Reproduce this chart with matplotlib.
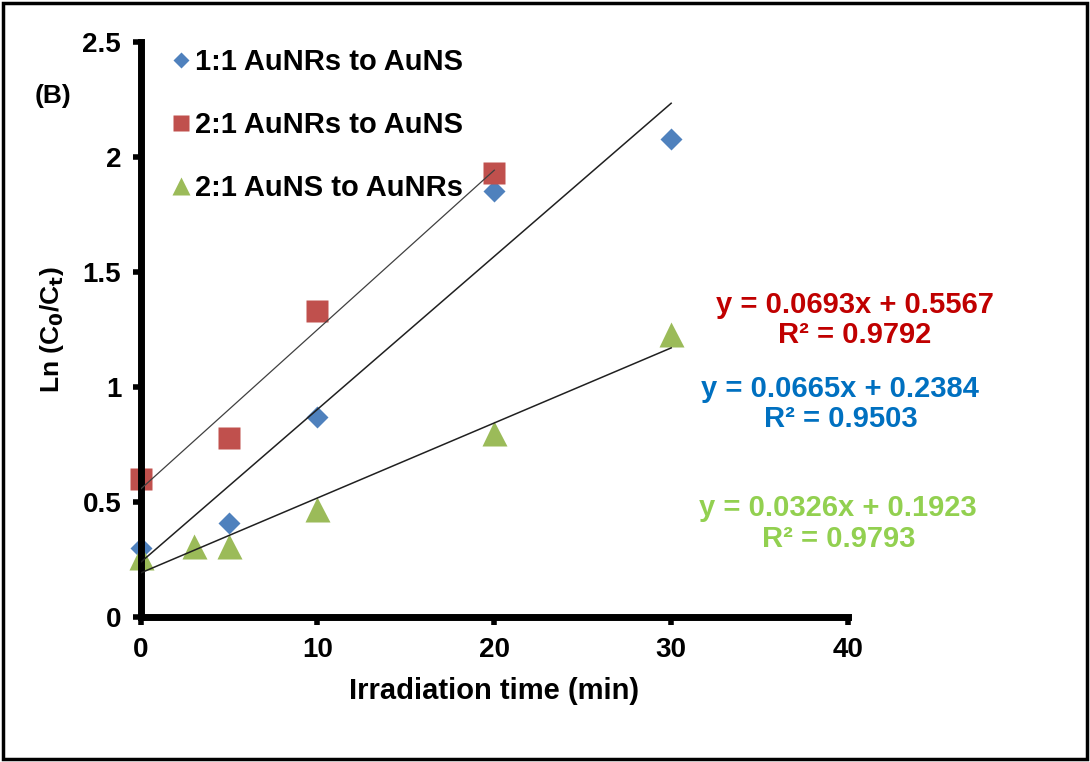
import numpy as np
import matplotlib.pyplot as plt
from matplotlib.lines import Line2D
from matplotlib.patches import Rectangle

plt.rcParams['font.family'] = ['Liberation Sans', 'DejaVu Sans']
plt.rcParams['font.weight'] = 'bold'

# data
t_blue = [0, 5, 10, 20, 30]
y_blue = [0.30, 0.41, 0.87, 1.85, 2.08]
t_red = [0, 5, 10, 20]
y_red = [0.60, 0.78, 1.33, 1.93]
t_green = [0, 3, 5, 10, 20, 30]
y_green = [0.26, 0.31, 0.31, 0.47, 0.80, 1.23]

labels = ['1:1 AuNRs to AuNS', '2:1 AuNRs to AuNS', '2:1 AuNS to AuNRs']

# linear fits as printed on the chart
fit_blue = (0.0665, 0.2384, 0.9503)
fit_red = (0.0693, 0.5567, 0.9792)
fit_green = (0.0326, 0.1923, 0.9793)

c_blue, c_red, c_green = '#4F81BD', '#C0504D', '#9BBB59'

fig = plt.figure(figsize=(10.9, 7.62), dpi=100)
ax = fig.add_axes([0.129, 0.190, 0.649, 0.755])

# trendlines
x = np.array([0, 20])
ax.plot(x, fit_red[0] * x + fit_red[1], color='#404040', lw=0.9, zorder=3)
x = np.array([0, 30])
ax.plot(x, fit_blue[0] * x + fit_blue[1], color='#202020', lw=1.1, zorder=3)
ax.plot(x, fit_green[0] * x + fit_green[1], color='#202020', lw=1.1, zorder=3)

ax.plot(t_blue, y_blue, 'D', color=c_blue, ms=11, mec='none', zorder=2, clip_on=False)
ax.plot(t_red, y_red, 's', color=c_red, ms=16, mec='none', zorder=2, clip_on=False)
ax.plot(t_green, y_green, '^', color=c_green, ms=18, mec='none', zorder=2, clip_on=False)

ax.set_xlim(0, 40)
ax.set_ylim(0, 2.5)
ax.set_xticks([0, 10, 20, 30, 40])
ax.set_yticks([0, 0.5, 1, 1.5, 2, 2.5])
ax.set_yticklabels(['0', '0.5', '1', '1.5', '2', '2.5'])
ax.tick_params(labelsize=20, width=4, length=6, direction='out', pad=8)
for s in ['top', 'right']:
    ax.spines[s].set_visible(False)
for s in ['left', 'bottom']:
    ax.spines[s].set_linewidth(5)

ax.set_xlabel('Irradiation time (min)', fontsize=21, fontweight='bold', labelpad=10)
ax.set_ylabel('Ln (C$_\\mathbf{0}$/C$_\\mathbf{t}$)', fontsize=19, fontweight='bold', labelpad=12)

handles = [
    Line2D([], [], ls='none', marker='D', color=c_blue, ms=8, mec='none'),
    Line2D([], [], ls='none', marker='s', color=c_red, ms=12, mec='none'),
    Line2D([], [], ls='none', marker='^', color=c_green, ms=13, mec='none'),
]
ax.legend(handles, labels, loc='upper left', bbox_to_anchor=(0.007, 1.035), frameon=False,
          prop={'size': 21, 'weight': 'bold'}, handlelength=0.6, handletextpad=0.2,
          labelspacing=1.2)

fig.text(0.032, 0.874, '(B)', fontsize=19, fontweight='bold', va='center')

eq = [(fit_red, '#C00000', 0.784, 0.580), (fit_blue, '#0070C0', 0.771, 0.470),
      (fit_green, '#92D050', 0.769, 0.313)]
for (m, b, r2), col, xc, yc in eq:
    fig.text(xc, yc, 'y = %.4fx + %.4f\nR² = %.4f' % (m, b, r2), color=col,
             fontsize=21, fontweight='bold', ha='center', va='center', linespacing=1.1)

fig.add_artist(Rectangle((0.003, 0.004), 0.994, 0.992, transform=fig.transFigure,
                         fill=False, ec='black', lw=2.5))

fig.savefig('out.png', dpi=100)
plt.close()
